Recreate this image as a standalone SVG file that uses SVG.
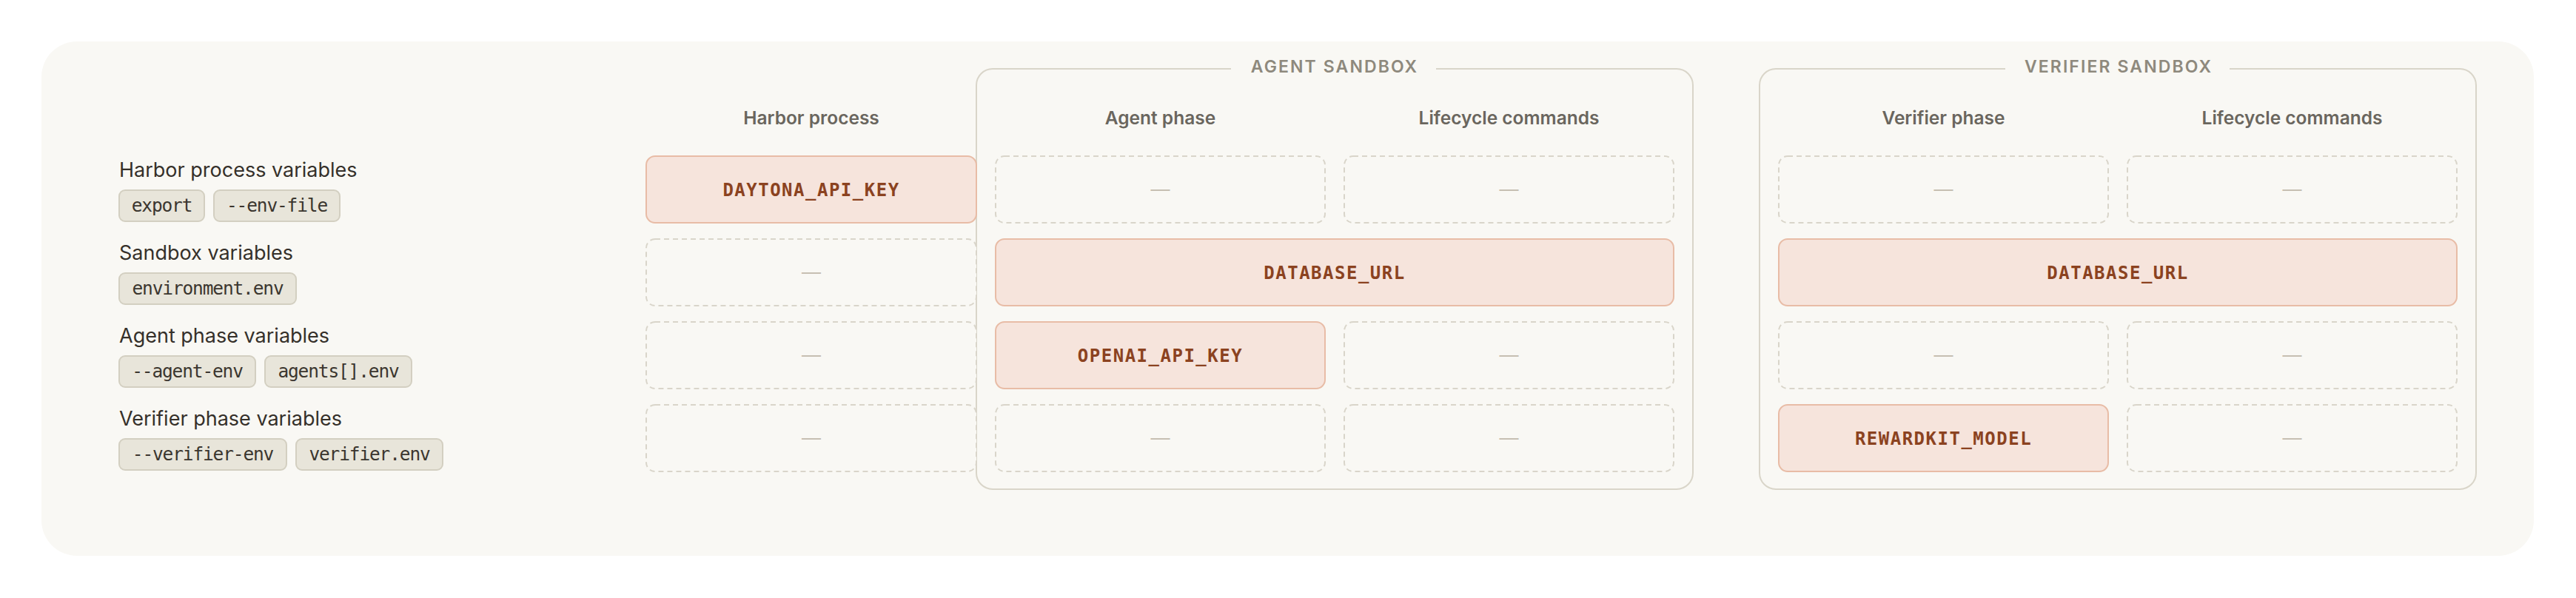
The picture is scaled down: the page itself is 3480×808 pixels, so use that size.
<svg xmlns="http://www.w3.org/2000/svg" width="3480" height="808" viewBox="0 0 3480 808">
<defs>
<style>
.bg{fill:#ffffff}
.panel{fill:#f9f8f4}
.frame{fill:none;stroke:#d9d5c9;stroke-width:2}
.knock{fill:#f9f8f4}
.empty{fill:#f9f8f4;stroke:#d9d5ca;stroke-width:2;stroke-dasharray:7 5}
.set{fill:#f6e4dc;stroke:#e8bca6;stroke-width:2}
.var{font-family:"DejaVu Sans Mono","Liberation Mono",monospace;font-size:24px;font-weight:600;letter-spacing:1.5px;fill:#8b4220;text-anchor:middle}
.dash{font-family:Inter,"Liberation Sans",sans-serif;font-size:26px;fill:#c6bfb2;text-anchor:middle}
.head{font-family:Inter,"Liberation Sans",sans-serif;font-size:24.5px;font-weight:600;fill:#6a665e;text-anchor:middle}
.title{font-family:Inter,"Liberation Sans",sans-serif;font-size:23px;font-weight:600;letter-spacing:2.1px;fill:#8e897d;text-anchor:middle}
.label{font-family:Inter,"Liberation Sans",sans-serif;font-size:27px;fill:#35302a}
.chip{fill:#e8e5da;stroke:#d3cfc1;stroke-width:2}
.chiptxt{font-family:"DejaVu Sans Mono","Liberation Mono",monospace;font-size:24.5px;letter-spacing:-1.15px;fill:#3b362f;text-anchor:middle}
</style>
</defs>
<rect class="bg" x="0" y="0" width="3480" height="808"/>
<rect id="panel" class="panel" x="56" y="56" width="3367" height="695" rx="48"/>

<g id="legend">
  <g id="legend-harbor">
    <text class="label" x="161" y="239">Harbor process variables</text>
    <rect class="chip" x="161" y="257" width="115" height="42" rx="8"/>
    <text class="chiptxt" x="218.5" y="286">export</text>
    <rect class="chip" x="289" y="257" width="170" height="42" rx="8"/>
    <text class="chiptxt" x="374" y="286">--env-file</text>
  </g>
  <g id="legend-sandbox">
    <text class="label" x="161" y="351">Sandbox variables</text>
    <rect class="chip" x="161" y="369" width="239" height="42" rx="8"/>
    <text class="chiptxt" x="280.5" y="398">environment.env</text>
  </g>
  <g id="legend-agent">
    <text class="label" x="161" y="463">Agent phase variables</text>
    <rect class="chip" x="161" y="481" width="184" height="42" rx="8"/>
    <text class="chiptxt" x="253" y="510">--agent-env</text>
    <rect class="chip" x="358" y="481" width="198" height="42" rx="8"/>
    <text class="chiptxt" x="457" y="510">agents[].env</text>
  </g>
  <g id="legend-verifier">
    <text class="label" x="161" y="575">Verifier phase variables</text>
    <rect class="chip" x="161" y="593" width="226" height="42" rx="8"/>
    <text class="chiptxt" x="274" y="622">--verifier-env</text>
    <rect class="chip" x="400" y="593" width="198" height="42" rx="8"/>
    <text class="chiptxt" x="499" y="622">verifier.env</text>
  </g>
</g>

<g id="agent-sandbox">
  <rect class="frame" x="1319" y="93" width="968" height="568" rx="22"/>
  <rect class="knock" x="1663" y="80" width="277" height="26"/>
  <text class="title" x="1803" y="98">AGENT SANDBOX</text>
</g>
<g id="verifier-sandbox">
  <rect class="frame" x="2377" y="93" width="968" height="568" rx="22"/>
  <rect class="knock" x="2709" y="80" width="303" height="26"/>
  <text class="title" x="2862" y="98">VERIFIER SANDBOX</text>
</g>

<g id="headers">
  <text class="head" x="1096" y="168">Harbor process</text>
  <text class="head" x="1567.5" y="168">Agent phase</text>
  <text class="head" x="2038.5" y="168">Lifecycle commands</text>
  <text class="head" x="2625.5" y="168">Verifier phase</text>
  <text class="head" x="3096.5" y="168">Lifecycle commands</text>
</g>

<g id="harbor-column">
  <g id="h-r1"><rect class="set" x="873" y="211" width="446" height="90" rx="12"/><text class="var" x="1096" y="265">DAYTONA_API_KEY</text></g>
  <g id="h-r2"><rect class="empty" x="873" y="323" width="446" height="90" rx="12"/><text class="dash" x="1096" y="377">—</text></g>
  <g id="h-r3"><rect class="empty" x="873" y="435" width="446" height="90" rx="12"/><text class="dash" x="1096" y="489">—</text></g>
  <g id="h-r4"><rect class="empty" x="873" y="547" width="446" height="90" rx="12"/><text class="dash" x="1096" y="601">—</text></g>
</g>

<g id="agent-cells">
  <g id="a-r1"><rect class="empty" x="1345" y="211" width="445" height="90" rx="12"/><text class="dash" x="1567.5" y="265">—</text></g>
  <g id="al-r1"><rect class="empty" x="1816" y="211" width="445" height="90" rx="12"/><text class="dash" x="2038.5" y="265">—</text></g>
  <g id="a-r2"><rect class="set" x="1345" y="323" width="916" height="90" rx="12"/><text class="var" x="1803" y="377">DATABASE_URL</text></g>
  <g id="a-r3"><rect class="set" x="1345" y="435" width="445" height="90" rx="12"/><text class="var" x="1567.5" y="489">OPENAI_API_KEY</text></g>
  <g id="al-r3"><rect class="empty" x="1816" y="435" width="445" height="90" rx="12"/><text class="dash" x="2038.5" y="489">—</text></g>
  <g id="a-r4"><rect class="empty" x="1345" y="547" width="445" height="90" rx="12"/><text class="dash" x="1567.5" y="601">—</text></g>
  <g id="al-r4"><rect class="empty" x="1816" y="547" width="445" height="90" rx="12"/><text class="dash" x="2038.5" y="601">—</text></g>
</g>

<g id="verifier-cells">
  <g id="v-r1"><rect class="empty" x="2403" y="211" width="445" height="90" rx="12"/><text class="dash" x="2625.5" y="265">—</text></g>
  <g id="vl-r1"><rect class="empty" x="2874" y="211" width="445" height="90" rx="12"/><text class="dash" x="3096.5" y="265">—</text></g>
  <g id="v-r2"><rect class="set" x="2403" y="323" width="916" height="90" rx="12"/><text class="var" x="2861" y="377">DATABASE_URL</text></g>
  <g id="v-r3"><rect class="empty" x="2403" y="435" width="445" height="90" rx="12"/><text class="dash" x="2625.5" y="489">—</text></g>
  <g id="vl-r3"><rect class="empty" x="2874" y="435" width="445" height="90" rx="12"/><text class="dash" x="3096.5" y="489">—</text></g>
  <g id="v-r4"><rect class="set" x="2403" y="547" width="445" height="90" rx="12"/><text class="var" x="2625.5" y="601">REWARDKIT_MODEL</text></g>
  <g id="vl-r4"><rect class="empty" x="2874" y="547" width="445" height="90" rx="12"/><text class="dash" x="3096.5" y="601">—</text></g>
</g>

<g id="connectors"/>
</svg>
